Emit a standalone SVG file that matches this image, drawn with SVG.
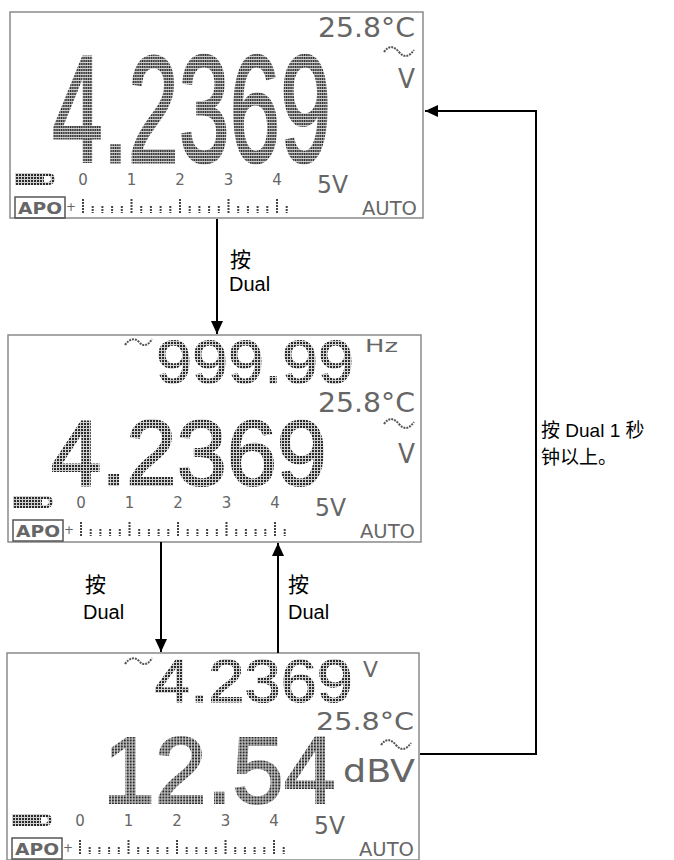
<svg xmlns="http://www.w3.org/2000/svg" xmlns:xlink="http://www.w3.org/1999/xlink" width="674" height="860" viewBox="0 0 674 860">
<style>
.panel{fill:#fff;stroke:#8a8a8a;stroke-width:1.5}
.big{font-family:"Liberation Sans",Arial,sans-serif;fill:url(#dot);stroke:url(#dot)}
.sm{font-family:"DejaVu Sans","Liberation Sans",sans-serif;fill:#666}
.wave{fill:none;stroke:#555;stroke-width:2;stroke-dasharray:2 1}
.tick{stroke:#444;stroke-width:2;stroke-dasharray:2 1}
.lbl{font-family:"Liberation Sans","Noto Sans CJK SC",sans-serif;fill:#000;font-size:20px}
.cjk{font-family:"Noto Sans CJK SC","Liberation Sans",sans-serif;fill:#000;font-size:21px}
.cjk2{font-family:"Noto Sans CJK SC","Liberation Sans",sans-serif;fill:#000;font-size:19px}
.conn{fill:none;stroke:#000;stroke-width:2}
</style>
<defs>
<pattern id="dot" width="3" height="3" patternUnits="userSpaceOnUse"><rect width="3" height="3" fill="#d0d0d0"/><rect width="2" height="2" fill="#2a2a2a"/></pattern>
<marker id="ah" markerUnits="userSpaceOnUse" markerWidth="14" markerHeight="12" refX="13" refY="6" orient="auto"><path d="M0,0 L13,6 L0,12 z" fill="#000"/></marker>
<g id="status">
<rect x="5" y="161" width="27" height="12" fill="url(#dot)"/>
<path d="M32,161 h7 a6,6 0 0 1 0,12 h-7 z M34,164 h4 a3,3 0 0 1 0,6 h-4 z" fill="url(#dot)" fill-rule="evenodd"/>
<g class="sm" font-size="15" text-anchor="middle">
<text x="73" y="173">0</text><text x="121.5" y="173">1</text><text x="170" y="173">2</text><text x="218.5" y="173">3</text><text x="267" y="173">4</text>
</g>
<text class="sm" x="307" y="181" font-size="25" textLength="31" lengthAdjust="spacingAndGlyphs">5V</text>
<rect x="5" y="185" width="50" height="21" fill="none" stroke="#555" stroke-width="1.5"/>
<text class="sm" x="8" y="202" font-size="15" font-weight="bold" textLength="44" lengthAdjust="spacingAndGlyphs">APO</text>
<text class="sm" x="61" y="199" font-size="12" text-anchor="middle">+</text>
<path class="tick" d="M73,187V201 M121.5,187V201 M170,187V201 M218.5,187V201 M267,187V201"/>
<path class="tick" d="M82.7,194V201 M92.4,194V201 M102.1,194V201 M111.8,194V201 M131.2,194V201 M140.9,194V201 M150.6,194V201 M160.3,194V201 M179.7,194V201 M189.4,194V201 M199.1,194V201 M208.8,194V201 M228.2,194V201 M237.9,194V201 M247.6,194V201 M257.3,194V201 M276.7,194V201"/>
<text class="sm" x="352" y="203" font-size="19" textLength="55" lengthAdjust="spacingAndGlyphs">AUTO</text>
</g>
</defs>
<rect width="674" height="860" fill="#fff"/>

<g id="lcd1">
<rect class="panel" x="10" y="12" width="413" height="206"/>
<text class="sm" x="318" y="37" font-size="26" textLength="97" lengthAdjust="spacingAndGlyphs">25.8°C</text>
<path class="wave" d="M384,52 C389,45 394,46 399,52 C404,58 409,57 414,50"/>
<text class="sm" x="398" y="88" font-size="26" textLength="17" lengthAdjust="spacingAndGlyphs">V</text>
<text class="big" transform="translate(52,162) scale(0.6,1)" font-size="152" stroke-width="3">4.2369</text>
<use xlink:href="#status" href="#status" transform="translate(10,12)"/>
</g>

<g id="lcd2">
<rect class="panel" x="8" y="335" width="413" height="207"/>
<path class="wave" d="M125,345 C130,338 135,338 139,342 C143,347 148,346 152,339"/>
<text class="big" x="156" y="382.5" font-size="62" stroke-width="1" textLength="198" lengthAdjust="spacingAndGlyphs">999.99</text>
<text class="sm" x="365" y="352" font-size="18" textLength="33" lengthAdjust="spacingAndGlyphs">Hz</text>
<text class="sm" x="318" y="412" font-size="26" textLength="97" lengthAdjust="spacingAndGlyphs">25.8°C</text>
<path class="wave" d="M384,424 C389,417 394,418 399,424 C404,430 409,429 414,422"/>
<text class="big" x="51" y="484.5" font-size="92" stroke-width="2" textLength="276" lengthAdjust="spacingAndGlyphs">4.2369</text>
<text class="sm" x="398" y="463" font-size="26" textLength="17" lengthAdjust="spacingAndGlyphs">V</text>
<use xlink:href="#status" href="#status" transform="translate(8,335)"/>
</g>

<g id="lcd3">
<rect class="panel" x="7" y="653" width="412" height="207"/>
<path class="wave" d="M125,664 C130,657 135,657 139,661 C143,666 148,665 152,658"/>
<text class="big" x="154" y="701.5" font-size="62" stroke-width="1" textLength="199" lengthAdjust="spacingAndGlyphs">4.2369</text>
<text class="sm" x="363" y="677" font-size="21" textLength="15" lengthAdjust="spacingAndGlyphs">V</text>
<text class="sm" x="316" y="730" font-size="25" textLength="98" lengthAdjust="spacingAndGlyphs">25.8°C</text>
<path class="wave" d="M381,745 C386,738 391,739 396,745 C401,751 406,750 411,743"/>
<text class="big" transform="translate(103,802.5) scale(0.99,1)" font-size="94" stroke-width="2">12.54</text>
<text class="sm" x="343" y="782" font-size="32" textLength="72" lengthAdjust="spacingAndGlyphs">dBV</text>
<use xlink:href="#status" href="#status" transform="translate(7,653)"/>
</g>

<g id="connectors">
<path class="conn" d="M217,219 V334" marker-end="url(#ah)"/>
<path class="conn" d="M161,542 V652" marker-end="url(#ah)"/>
<path class="conn" d="M278,653 V543" marker-end="url(#ah)"/>
<path class="conn" d="M420,754 H536 V111 H425" marker-end="url(#ah)"/>
</g>

<g id="labels">
<text class="cjk" x="230" y="267">按</text>
<text class="lbl" x="229" y="291">Dual</text>
<text class="cjk" x="85" y="592">按</text>
<text class="lbl" x="83" y="619">Dual</text>
<text class="cjk" x="288" y="592">按</text>
<text class="lbl" x="288" y="619">Dual</text>
<text class="lbl" x="541" y="437" style="font-size:19px"><tspan class="cjk2">按</tspan> Dual 1 <tspan class="cjk2">秒</tspan></text>
<text class="cjk2" x="541" y="464">钟以上。</text>
</g>
</svg>
